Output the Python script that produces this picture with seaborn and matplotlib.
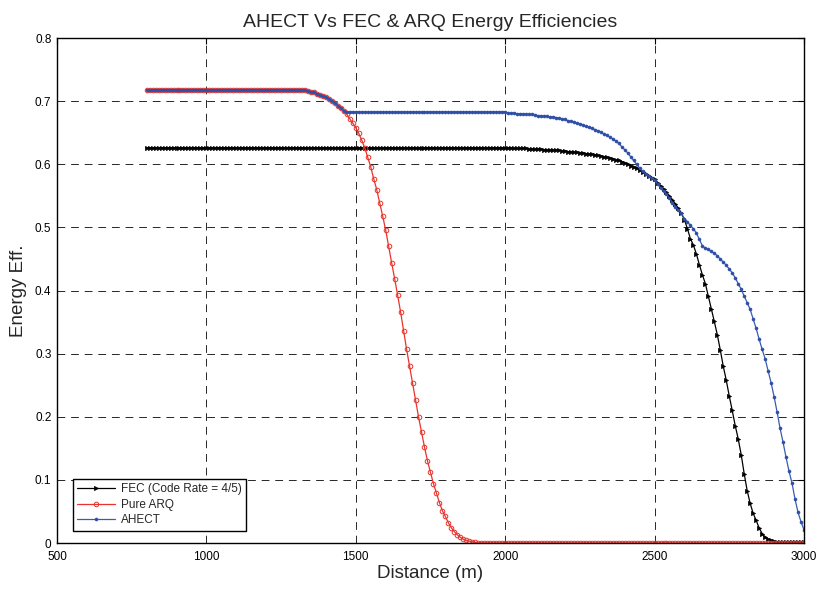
import numpy as np
import pandas as pd
import matplotlib
matplotlib.use("Agg")
import matplotlib.pyplot as plt
import seaborn as sns

# distance grid (m), one sample every 10 m
distance = np.arange(800, 3001, 10)

# Pure ARQ: flat, then sharp drop around 1600 m
arq_flat = [0.718] * 51                      # 800 .. 1300
arq_drop = [0.718, 0.717, 0.717, 0.716, 0.715, 0.714, 0.712, 0.710, 0.708, 0.706,
            0.703, 0.700, 0.697, 0.693, 0.689, 0.684, 0.679, 0.672, 0.665, 0.658,
            0.649, 0.638, 0.626, 0.611, 0.596, 0.577, 0.560, 0.539, 0.518, 0.496,
            0.470, 0.444, 0.419, 0.393, 0.366, 0.336, 0.307, 0.280, 0.253, 0.227,
            0.200, 0.176, 0.152, 0.130, 0.112, 0.094, 0.079, 0.064, 0.051, 0.042,
            0.032, 0.024, 0.018, 0.013, 0.009, 0.006, 0.004, 0.003, 0.002, 0.001]  # 1310 .. 1900
arq_tail = [0.0] * 110                       # 1910 .. 3000

# FEC (code rate 4/5)
fec_flat = [0.626] * 121                     # 800 .. 2000
fec_drop = [0.626, 0.626, 0.625, 0.625, 0.625, 0.625, 0.625, 0.624, 0.624, 0.624,
            0.624, 0.624, 0.623, 0.623, 0.623, 0.622, 0.622, 0.622, 0.621, 0.621,
            0.620, 0.620, 0.619, 0.619, 0.618, 0.618, 0.617, 0.616, 0.616, 0.615,
            0.614, 0.613, 0.612, 0.611, 0.610, 0.609, 0.607, 0.606, 0.604, 0.602,
            0.600, 0.598, 0.596, 0.594, 0.591, 0.588, 0.585, 0.582, 0.579, 0.576,
            0.571, 0.566, 0.561, 0.556, 0.550, 0.544, 0.537, 0.530, 0.522, 0.512,
            0.498, 0.482, 0.472, 0.458, 0.441, 0.425, 0.411, 0.391, 0.371, 0.351,
            0.330, 0.306, 0.280, 0.258, 0.233, 0.210, 0.186, 0.165, 0.140, 0.110,
            0.083, 0.063, 0.047, 0.036, 0.024, 0.015, 0.009, 0.006, 0.004, 0.003]  # 2010 .. 2900
fec_tail = [0.002] * 10                      # 2910 .. 3000

# AHECT: follows ARQ, then holds, then falls last
ahect_mid = [0.683] * 54                     # 1470 .. 2000
ahect_drop = [0.681, 0.681, 0.681, 0.680, 0.680, 0.680, 0.679, 0.679, 0.679, 0.678,
              0.677, 0.677, 0.676, 0.676, 0.675, 0.675, 0.674, 0.673, 0.672, 0.671,
              0.669, 0.668, 0.667, 0.665, 0.664, 0.662, 0.660, 0.659, 0.657, 0.655,
              0.653, 0.651, 0.648, 0.646, 0.643, 0.640, 0.637, 0.633, 0.628, 0.623,
              0.618, 0.612, 0.606, 0.600, 0.594, 0.589, 0.585, 0.581, 0.578, 0.575,
              0.569, 0.563, 0.558, 0.553, 0.546, 0.539, 0.533, 0.527, 0.522, 0.514,
              0.509, 0.503, 0.498, 0.491, 0.481, 0.471, 0.467, 0.465, 0.462, 0.459,
              0.455, 0.450, 0.445, 0.440, 0.434, 0.428, 0.420, 0.411, 0.402, 0.391,
              0.381, 0.370, 0.355, 0.340, 0.323, 0.307, 0.292, 0.273, 0.254, 0.232,
              0.208, 0.182, 0.160, 0.136, 0.114, 0.095, 0.070, 0.049, 0.034, 0.021]  # 2010 .. 3000

arq = arq_flat + arq_drop + arq_tail
fec = fec_flat + fec_drop + fec_tail
ahect = arq_flat + arq_drop[:16] + ahect_mid + ahect_drop

df = pd.DataFrame({"distance": distance, "fec": fec, "arq": arq, "ahect": ahect})

sns.set_style("white")
plt.rcParams["font.family"] = ["Liberation Sans", "DejaVu Sans"]

fig = plt.figure(figsize=(8.19, 5.91), dpi=100)
ax = fig.add_axes([0.0696, 0.0812, 0.912, 0.8545])

sns.lineplot(data=df, x="distance", y="fec", ax=ax, color="black", lw=0.9,
             marker=">", markersize=3.0, markeredgewidth=0.5, markerfacecolor="black",
             markeredgecolor="black", label="FEC (Code Rate = 4/5)")
sns.lineplot(data=df, x="distance", y="arq", ax=ax, color="#e8342c", lw=0.9,
             marker="o", markersize=3.3, markeredgewidth=0.7, markerfacecolor="none",
             markeredgecolor="#e8342c", label="Pure ARQ")
sns.lineplot(data=df, x="distance", y="ahect", ax=ax, color="#3a5bb0", lw=0.9,
             marker="o", markersize=2.2, markeredgewidth=0.4, markerfacecolor="#2f4fa6",
             markeredgecolor="#2f4fa6", label="AHECT")

ax.set_xlim(500, 3000)
ax.set_ylim(0, 0.8)
ax.set_xticks([500, 1000, 1500, 2000, 2500, 3000])
ax.set_yticks([0, 0.1, 0.2, 0.3, 0.4, 0.5, 0.6, 0.7, 0.8])
ax.set_yticklabels(["0", "0.1", "0.2", "0.3", "0.4", "0.5", "0.6", "0.7", "0.8"])
ax.grid(True, color="black", linestyle=(0, (8, 6)), linewidth=0.7, alpha=0.85)
ax.set_axisbelow(True)
ax.tick_params(direction="in", top=True, right=True, length=4, width=0.8,
               labelsize=8.5, colors="black")
ax.tick_params(axis="x", pad=6)
ax.tick_params(axis="y", pad=4)
for sp in ax.spines.values():
    sp.set_color("black")
    sp.set_linewidth(1.0)

ax.set_xlabel("Distance (m)", fontsize=13.5, labelpad=1)
ax.set_ylabel("Energy Eff.", fontsize=13.5, labelpad=6)
ax.set_title("AHECT Vs FEC & ARQ Energy Efficiencies", fontsize=14, pad=8)

leg = ax.legend(loc="lower left", bbox_to_anchor=(0.014, 0.013), fontsize=8.5,
                frameon=True, fancybox=False, edgecolor="black", framealpha=1,
                borderpad=0.35, labelspacing=0.3, handlelength=3.2, handletextpad=0.5)
leg.get_frame().set_linewidth(1.0)

fig.savefig("out.png", dpi=100)
